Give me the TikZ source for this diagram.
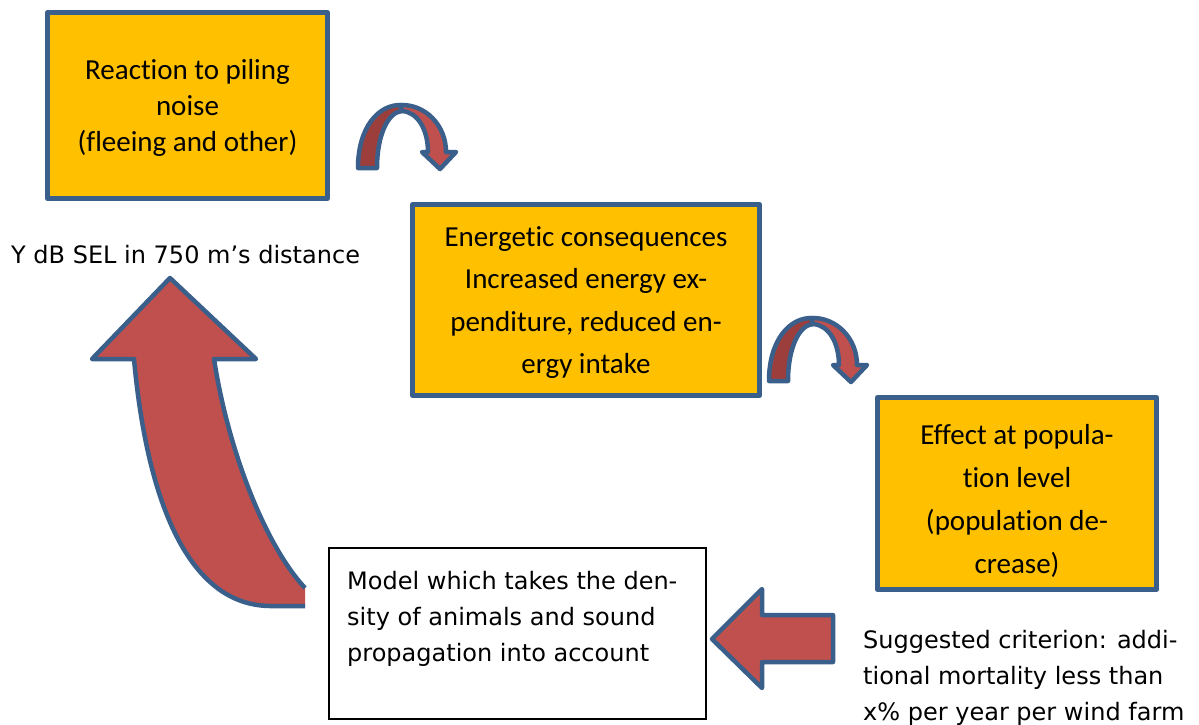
\documentclass[tikz,border=0pt]{standalone}
\usepackage{fontspec}
\setmainfont{Carlito}[Ligatures=NoCommon]
\newfontfamily\verd{DejaVu Sans}
\definecolor{boxfill}{HTML}{FFC000}
\definecolor{edgeblue}{HTML}{3A5F8B}
\definecolor{arrowred}{HTML}{C0504D}
\definecolor{arrowdark}{HTML}{9C3E3B}
\begin{document}
\begin{tikzpicture}[x=1pt,y=-1pt,
  orangebox/.style={draw=edgeblue, fill=boxfill, line width=5pt, line join=round, inner sep=0pt},
  boxtext/.style={align=center, inner sep=0pt, font=\fontsize{29}{36}\selectfont},
  modelbox/.style={draw=black, line width=1.8pt, fill=white, inner sep=0pt},
  blockarrow/.style={draw=edgeblue, line width=4.5pt, line join=round},
  plainlabel/.style={font=\verd\fontsize{24}{36}\selectfont, align=left, inner sep=0pt}
]
\useasboundingbox[fill=white] (0,0) rectangle (1199,724);

% boxes
\node[orangebox, minimum width=280pt, minimum height=186pt] (react) at (187.5,105.5) {};
\node[boxtext] (reacttext) at ([yshift=-2.5pt]react.center)
  {Reaction to piling\\noise\\(fleeing and other)};
\node[orangebox, minimum width=347pt, minimum height=191pt] (energy) at (586,300) {};
\node[boxtext, font=\fontsize{29}{42.5}\selectfont] (energytext) at ([yshift=-2.5pt]energy.center)
  {Energetic consequences\\Increased energy ex-\\penditure, reduced en-\\ergy intake};
\node[orangebox, minimum width=279pt, minimum height=192pt] (popul) at (1017,493.5) {};
\node[boxtext, font=\fontsize{29}{43}\selectfont] (popultext) at ([yshift=-7.5pt]popul.center)
  {Effect at popula-\\tion level\\(population de-\\crease)};
\node[modelbox, minimum width=377pt, minimum height=171pt] (model) at (517.5,633.5) {};
\node[plainlabel, anchor=north west] (modeltext) at (347,571)
  {Model which takes the den-\\sity of animals and sound\\propagation into account};

% labels
\node[plainlabel, anchor=base west] (ydb) at (11,263) {Y dB SEL in 750 m’s distance};
\node[plainlabel, anchor=north west] (crit) at (863,630)
  {Suggested criterion: addi-\\tional mortality less than\\x\% per year per wind farm};

% small curved arrows
\foreach \dx/\dy in {0/0, 411/213}{
\begin{scope}[shift={(\dx,\dy)}]
  \path[blockarrow, fill=arrowdark] (358,168) .. controls (358,128) and (378,104) .. (402,105)
    -- (402,111) .. controls (388,112) and (377,135) .. (377,168) -- cycle;
  \path[blockarrow, fill=arrowred] (400,105) .. controls (425,104) and (446,125) .. (446,152)
    -- (456,152) -- (440,169) -- (422,152) -- (428,152)
    .. controls (428,130) and (418,112) .. (402,111) -- cycle;
\end{scope}}

% big curved arrow
\fill[arrowred] (305,606) -- (270,606) .. controls (180,605) and (145,480) .. (134,359)
  -- (92,359) -- (170,278) -- (256,359) -- (214,359)
  .. controls (228,450) and (265,545) .. (305,588) -- cycle;
\draw[blockarrow] (305,606) -- (270,606) .. controls (180,605) and (145,480) .. (134,359)
  -- (92,359) -- (170,278) -- (256,359) -- (214,359)
  .. controls (228,450) and (265,545) .. (305,588);

% left block arrow
\path[blockarrow, fill=arrowred] (712,639) -- (762,589) -- (762,615) -- (833,615)
  -- (833,662) -- (762,662) -- (762,688) -- cycle;
\end{tikzpicture}
\end{document}
